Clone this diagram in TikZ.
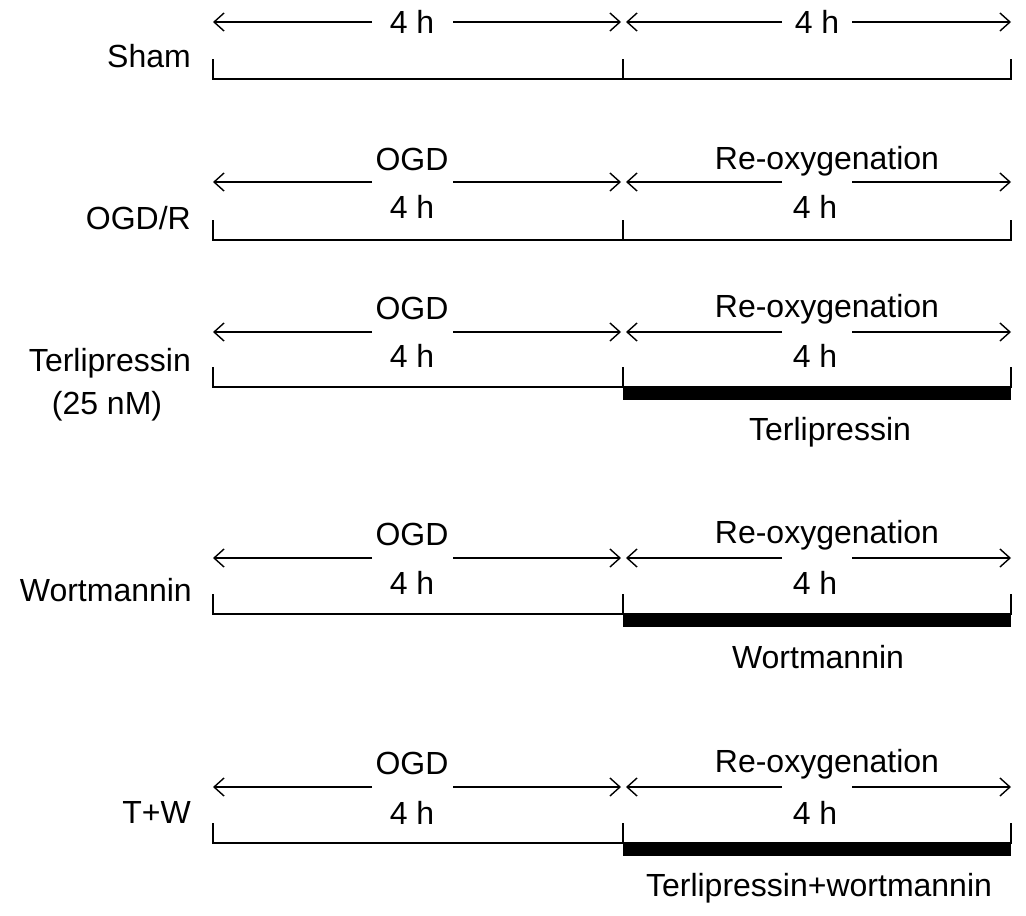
\documentclass[tikz,border=0pt]{standalone}
\usepackage{fontspec}
\setmainfont{Liberation Sans}
\usetikzlibrary{arrows.meta}

\begin{document}
\begin{tikzpicture}[x=1pt,y=-1pt,
    lbl/.style={font=\fontsize{32}{38}\selectfont, inner sep=0pt,
      text height=23pt, text depth=0pt},
    span/.style={line width=1.4pt,
      -{Straight Barb[length=10pt,width=18pt,line width=1.4pt]}},
    base/.style={line width=2.5pt, line join=miter}]
    \useasboundingbox (0,0) rectangle (1026,916);
    % rows: name / arrow y / baseline y
    \foreach \r/\a/\b in {sham/22/79, ogdr/182/240, terl/332/387,
        wort/558/614, tw/787/843}{
      \coordinate (\r-L) at (213,\b);
      \coordinate (\r-M) at (623,\b);
      \coordinate (\r-R) at (1011,\b);
      \coordinate (\r-g1) at (372,\a);
      \coordinate (\r-g2) at (453,\a);
      \coordinate (\r-g3) at (782,\a);
      \coordinate (\r-g4) at (852,\a);
      \draw[span] (\r-g1) -- (\r-L |- \r-g1);
      \draw[span] (\r-g2) -- ([xshift=-2pt]\r-M |- \r-g2);
      \draw[span] (\r-g3) -- ([xshift=3pt]\r-M |- \r-g3);
      \draw[span] (\r-g4) -- (\r-R |- \r-g4);
      \draw[base] ([yshift=20pt]\r-L) -- (\r-L) -- (\r-R) -- ++(0,-20);
      \draw[base] (\r-M) -- ++(0,-20);
    }
    % treatment bars
    \foreach \r in {terl, wort, tw}
      \fill ([yshift=1pt]\r-M) rectangle ([yshift=-13pt]\r-R);

    % Sham
    \node[lbl, anchor=east] (sham) at (191,56) {Sham};
    \node[lbl] (sham-h1) at (412,22) {4 h};
    \node[lbl] (sham-h2) at (817,22) {4 h};
    % OGD/R
    \node[lbl, anchor=east] (ogdr) at (191,218) {OGD/R};
    \node[lbl] (ogdr-o) at (412,159) {OGD};
    \node[lbl] (ogdr-h1) at (412,207) {4 h};
    \node[lbl] (ogdr-re) at (827,158) {Re-oxygenation};
    \node[lbl] (ogdr-h2) at (815,207) {4 h};
    % Terlipressin
    \node[lbl, anchor=east] (terl) at (191,360) {Terlipressin};
    \node[lbl] (terl-c) at (107,403) {(25 nM)};
    \node[lbl] (terl-o) at (412,308) {OGD};
    \node[lbl] (terl-h1) at (412,356) {4 h};
    \node[lbl] (terl-re) at (827,306) {Re-oxygenation};
    \node[lbl] (terl-h2) at (815,356) {4 h};
    \node[lbl] (terl-d) at (830,429) {Terlipressin};
    % Wortmannin
    \node[lbl, anchor=east] (wort) at (192,590) {Wortmannin};
    \node[lbl] (wort-o) at (412,534) {OGD};
    \node[lbl] (wort-h1) at (412,583) {4 h};
    \node[lbl] (wort-re) at (827,532) {Re-oxygenation};
    \node[lbl] (wort-h2) at (815,583) {4 h};
    \node[lbl] (wort-d) at (818,657) {Wortmannin};
    % T+W
    \node[lbl, anchor=east] (tw) at (191,812) {T+W};
    \node[lbl] (tw-o) at (412,763) {OGD};
    \node[lbl] (tw-h1) at (412,813) {4 h};
    \node[lbl] (tw-re) at (827,761) {Re-oxygenation};
    \node[lbl] (tw-h2) at (815,813) {4 h};
    \node[lbl] (tw-d) at (819,885) {Terlipressin+wortmannin};
\end{tikzpicture}
\end{document}
